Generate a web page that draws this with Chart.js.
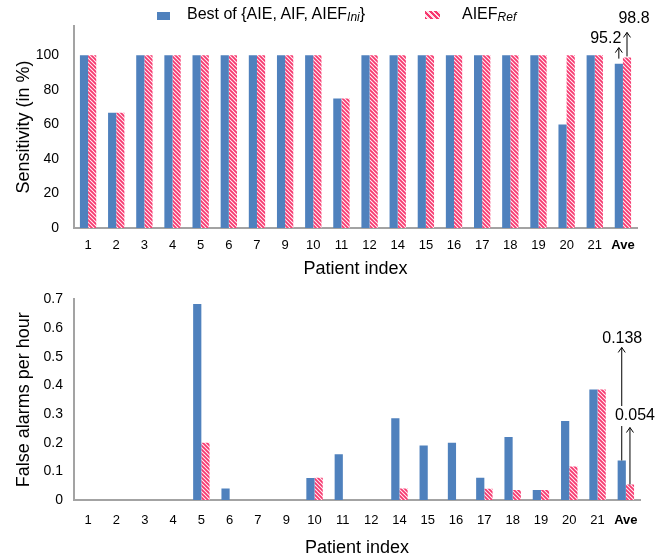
<!DOCTYPE html>
<html lang="en">
<head>
<meta charset="UTF-8">
<title>Sensitivity and false alarms per patient</title>
<script src="https://cdn.jsdelivr.net/npm/chart.js"></script>
<style>
  body { margin: 0; background: #fff; font-family: 'Liberation Sans', Arial, sans-serif; }
  #wrap { position: relative; width: 664px; height: 560px; }
  #topChart { position: absolute; left: 0; top: 0; }
  #bottomChart { position: absolute; left: 0; top: 280px; }
  .lg-text { position: absolute; top: 4px; font-size: 16px; line-height: 20px; color: #000; white-space: nowrap; }
  .lg-text i { font-size: 12px; vertical-align: -2px; }
  .sw { position: absolute; }
  #swBest { left: 157px; top: 12px; width: 13px; height: 8px; background: #4f81bd; }
  #swRef { left: 425px; top: 11px; width: 15px; height: 8px;
    background: repeating-linear-gradient(45deg, #f7386f 0 2px, #ffe4ec 2px 4px); }
</style>
</head>
<body>
<div id="wrap">
  <canvas id="topChart" width="664" height="280"></canvas>
  <canvas id="bottomChart" width="664" height="280"></canvas>
  <div class="sw" id="swBest"></div>
  <div class="lg-text" style="left:187px">Best of {AIE, AIF, AIEF<i>Ini</i>}</div>
  <div class="sw" id="swRef"></div>
  <div class="lg-text" style="left:462px">AIEF<i>Ref</i></div>
</div>

<script>
  // data
  const patients = ['1', '2', '3', '4', '5', '6', '7', '9', '10', '11', '12', '14', '15', '16', '17', '18', '19', '20', '21', 'Ave'];
  const sensBest = [100, 66.7, 100, 100, 100, 100, 100, 100, 100, 75, 100, 100, 100, 100, 100, 100, 100, 60, 100, 95.2];
  const sensRef = [100, 66.7, 100, 100, 100, 100, 100, 100, 100, 75, 100, 100, 100, 100, 100, 100, 100, 100, 100, 98.8];
  const alarmBest = [0, 0, 0, 0, 0.684, 0.04, 0, 0, 0.077, 0.16, 0, 0.285, 0.19, 0.2, 0.078, 0.22, 0.035, 0.276, 0.386, 0.138];
  const alarmRef = [0, 0, 0, 0, 0.2, 0, 0, 0, 0.078, 0, 0, 0.04, 0, 0, 0.039, 0.035, 0.035, 0.117, 0.386, 0.054];

  const BLUE = '#4f81bd';
  const FONT = "'Liberation Sans', Arial, sans-serif";

  function stripePattern() {
    const c = document.createElement('canvas');
    c.width = 4; c.height = 4;
    const g = c.getContext('2d');
    g.fillStyle = '#fff2f6';
    g.fillRect(0, 0, 4, 4);
    g.strokeStyle = '#f7386f';
    g.lineWidth = 1.8;
    g.beginPath();
    g.moveTo(-1, -1); g.lineTo(5, 5);
    g.moveTo(-1, 3); g.lineTo(1, 5);
    g.moveTo(3, -1); g.lineTo(5, 1);
    g.stroke();
    return g.createPattern(c, 'repeat');
  }

  // arrows + value labels over the "Ave" bars
  const arrowNotes = {
    id: 'arrowNotes',
    afterDatasetsDraw(chart, args, opts) {
      const ctx = chart.ctx;
      const last = patients.length - 1;
      ctx.save();
      opts.items.forEach(it => {
        const bar = chart.getDatasetMeta(it.ds).data[last];
        const x = bar.x;
        const y0 = bar.y - it.gap;
        const y1 = y0 - it.len;
        ctx.strokeStyle = '#000';
        ctx.lineWidth = 1;
        ctx.beginPath();
        ctx.moveTo(x, y0); ctx.lineTo(x, y1);
        ctx.moveTo(x - 3.5, y1 + 5); ctx.lineTo(x, y1); ctx.lineTo(x + 3.5, y1 + 5);
        ctx.stroke();

        const text = String(chart.data.datasets[it.ds].data[last]);
        ctx.font = '16px ' + FONT;
        ctx.textAlign = it.align;
        ctx.textBaseline = 'middle';
        const tx = x + it.dx, ty = y1 + it.dy;
        if (it.bg) {
          const w = ctx.measureText(text).width;
          ctx.fillStyle = '#fff';
          ctx.fillRect(tx - w / 2 - 1, ty - 10, w + 2, 20);
        }
        ctx.fillStyle = '#000';
        ctx.fillText(text, tx, ty);
      });
      ctx.restore();
    }
  };

  function makeChart(id, best, ref, yOpts, layoutPad, xHeight, xPad, titleBottom, notes) {
    return new Chart(document.getElementById(id), {
      type: 'bar',
      data: {
        labels: patients,
        datasets: [
          { label: 'Best of {AIE, AIF, AIEF Ini}', data: best, backgroundColor: BLUE,
            categoryPercentage: 0.58, barPercentage: 1 },
          { label: 'AIEF Ref', data: ref, backgroundColor: stripePattern(),
            categoryPercentage: 0.58, barPercentage: 1 }
        ]
      },
      options: {
        responsive: false,
        animation: false,
        layout: { padding: layoutPad },
        plugins: {
          legend: { display: false },
          tooltip: { enabled: false },
          arrowNotes: { items: notes }
        },
        scales: {
          x: {
            grid: { display: false, drawTicks: false },
            border: { display: true, color: '#a3a3a3', width: 2 },
            ticks: {
              color: '#000',
              padding: xPad,
              autoSkip: false,
              maxRotation: 0,
              minRotation: 0,
              font: c => ({ family: FONT, size: 13, weight: c.index === patients.length - 1 ? 'bold' : 'normal' })
            },
            title: { display: true, text: 'Patient index', color: '#000',
              font: { family: FONT, size: 18 }, padding: { top: 0, bottom: titleBottom } },
            afterFit: s => { s.height = xHeight; }
          },
          y: Object.assign({
            beginAtZero: true,
            grid: { display: false, drawTicks: false },
            border: { display: true, color: '#a3a3a3', width: 2 },
            afterFit: s => { s.width = 74; }
          }, yOpts)
        }
      },
      plugins: [arrowNotes]
    });
  }

  makeChart('topChart', sensBest, sensRef, {
    min: 0, max: 117,
    ticks: { stepSize: 20, color: '#000', padding: 15, font: { family: FONT, size: 14 },
      callback: v => (v <= 100 ? v : '') },
    title: { display: true, text: 'Sensitivity (in %)', color: '#000',
      font: { family: FONT, size: 18 }, padding: { top: 13, bottom: 0 } }
  }, { top: 26, right: 27, left: 0, bottom: 0 }, 52, 10, 0, [
    { ds: 0, gap: 5, len: 11, align: 'right', dx: 2.5, dy: -9 },
    { ds: 1, gap: 1, len: 24, align: 'center', dx: 7, dy: -14 }
  ]);

  makeChart('bottomChart', alarmBest, alarmRef, {
    min: 0, max: 0.7,
    ticks: { stepSize: 0.1, color: '#000', padding: 11, font: { family: FONT, size: 14 },
      callback: v => (v === 0 ? '0' : v.toFixed(1)) },
    title: { display: true, text: 'False alarms per hour', color: '#000',
      font: { family: FONT, size: 18 }, padding: { top: 13, bottom: 0 } }
  }, { top: 17, right: 24, left: 0, bottom: 0 }, 60, 12.5, 1, [
    { ds: 0, gap: 0, len: 113, align: 'center', dx: 0.5, dy: -9 },
    { ds: 1, gap: 0, len: 57, align: 'center', dx: 5, dy: -11.5, bg: true }
  ]);
</script>
</body>
</html>
